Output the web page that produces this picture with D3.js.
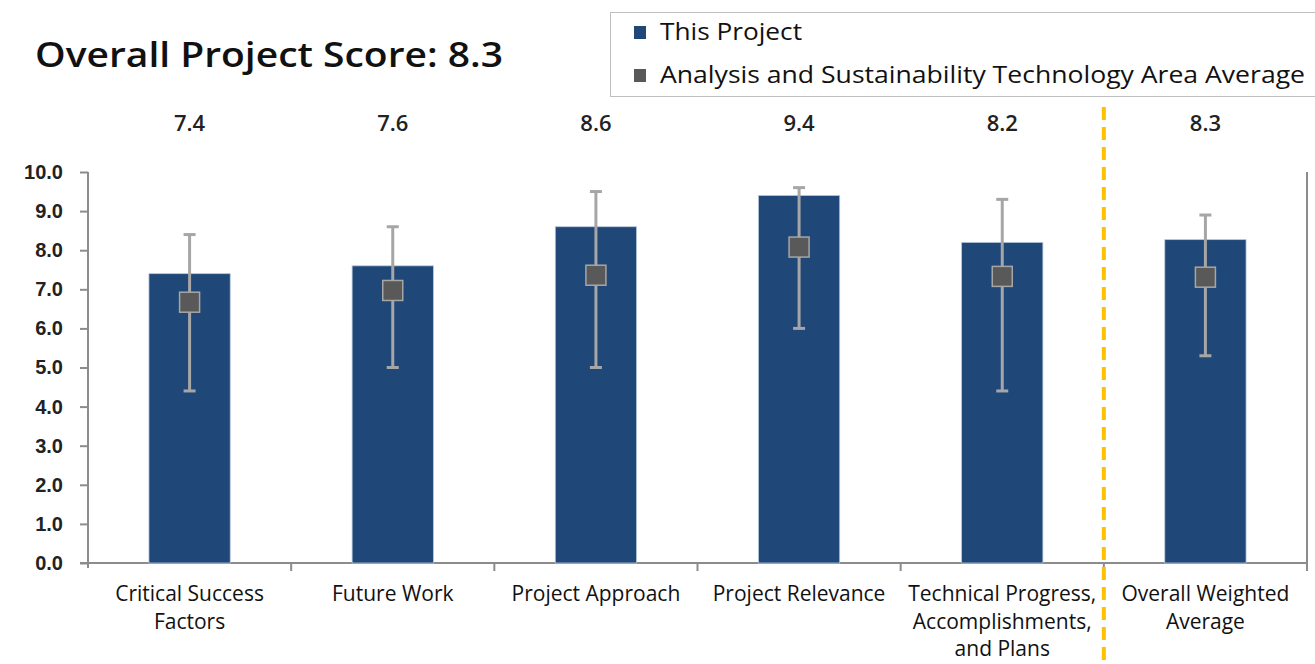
<!DOCTYPE html>
<html lang="en">
<head>
<meta charset="UTF-8" />
<title>Overall Project Score</title>
<script src="https://d3js.org/d3.v7.min.js"></script>
<style>
body {
    margin: 0;
    padding: 0;
    background: #fff;
    font-family: "Open Sans", Arial, sans-serif;
}
svg {
    display: block;
}
</style>
</head>
<body>
<svg width="1315" height="664"></svg>
<script>
// chart data
const categories = [
    ["Critical Success", "Factors"],
    ["Future Work"],
    ["Project Approach"],
    ["Project Relevance"],
    ["Technical Progress,", "Accomplishments,", "and Plans"],
    ["Overall Weighted", "Average"]
];
const projectScores = [7.4, 7.6, 8.6, 9.4, 8.2, 8.27];
const areaAverage = [6.67, 6.97, 7.36, 8.08, 7.33, 7.31];
const areaLow = [4.4, 5.0, 5.0, 6.0, 4.4, 5.3];
const areaHigh = [8.4, 8.6, 9.5, 9.6, 9.3, 8.9];
const yTicks = [0, 1, 2, 3, 4, 5, 6, 7, 8, 9, 10];
const overallScore = 8.3;

const svg = d3.select("svg");
const names = categories.map((c) => c.join(" "));

const x = d3.scaleBand()
    .domain(names)
    .range([88, 1307])
    .paddingInner(0.6)
    .paddingOuter(0.3);

const y = d3.scaleLinear()
    .domain([0, 10])
    .range([563, 172]);

const step = x.step();

// title
svg.append("text")
    .attr("x", 35)
    .attr("y", 67)
    .attr("textLength", 468)
    .attr("lengthAdjust", "spacingAndGlyphs")
    .style("font-size", "34px")
    .style("font-weight", 600)
    .style("fill", "#111")
    .text("Overall Project Score: " + overallScore.toFixed(1));

// legend
const legend = svg.append("g");
legend.append("rect")
    .attr("x", 610.5)
    .attr("y", 12.5)
    .attr("width", 720)
    .attr("height", 84)
    .attr("fill", "#fff")
    .attr("stroke", "#bfbfbf");
const legendItems = [
    { label: "This Project", color: "#1f4878", cy: 32, w: 142 },
    { label: "Analysis and Sustainability Technology Area Average", color: "#595959", cy: 75, w: 645 }
];
legendItems.forEach((d) => {
    legend.append("rect")
        .attr("x", 634)
        .attr("y", d.cy - 6)
        .attr("width", 12)
        .attr("height", 13)
        .attr("fill", d.color);
    legend.append("text")
        .attr("x", 660)
        .attr("y", d.cy + 8)
        .attr("textLength", d.w)
        .attr("lengthAdjust", "spacingAndGlyphs")
        .style("font-size", "23px")
        .style("fill", "#111")
        .text(d.label);
});

// axes
const yAxis = d3.axisLeft(y)
    .tickValues(yTicks)
    .tickSize(8)
    .tickPadding(17)
    .tickFormat(d3.format(".1f"));

const gy = svg.append("g")
    .attr("transform", "translate(88,0)")
    .call(yAxis);
gy.select(".domain").attr("stroke", "#8c8c8c").attr("stroke-width", 2)
    .attr("d", "M0,172V568");
gy.selectAll(".tick line").attr("stroke", "#8c8c8c").attr("stroke-width", 2);
gy.selectAll(".tick text")
    .style("font-size", "20px")
    .style("font-weight", 600)
    .style("fill", "#222");

// x baseline with boundary ticks
const boundaries = d3.range(categories.length + 1).map((i) => 88 + i * step);
svg.append("line")
    .attr("x1", 80).attr("x2", 1307)
    .attr("y1", y(0)).attr("y2", y(0))
    .attr("stroke", "#8c8c8c").attr("stroke-width", 2);
svg.selectAll(".xtick")
    .data(boundaries.slice(1))
    .enter()
    .append("line")
    .attr("x1", (d) => d).attr("x2", (d) => d)
    .attr("y1", y(0)).attr("y2", y(0) + 8)
    .attr("stroke", "#8c8c8c").attr("stroke-width", 2);
// right side line
svg.append("line")
    .attr("x1", 1307).attr("x2", 1307)
    .attr("y1", y(10)).attr("y2", y(0) + 8)
    .attr("stroke", "#8c8c8c").attr("stroke-width", 2);

// bars
svg.selectAll(".bar")
    .data(projectScores)
    .enter()
    .append("rect")
    .attr("x", (d, i) => x(names[i]))
    .attr("y", (d) => y(d))
    .attr("width", x.bandwidth())
    .attr("height", (d) => y(0) - y(d))
    .attr("fill", "#1f4878")
    .attr("stroke", "#b8c7da")
    .attr("stroke-width", 0.8);

// value labels
svg.selectAll(".value")
    .data(projectScores)
    .enter()
    .append("text")
    .attr("x", (d, i) => x(names[i]) + x.bandwidth() / 2)
    .attr("y", 131)
    .attr("text-anchor", "middle")
    .style("font-size", "22px")
    .style("font-weight", 600)
    .style("fill", "#222")
    .text((d) => d.toFixed(1));

// error bars for the area average
const cx = (i) => x(names[i]) + x.bandwidth() / 2;
const err = svg.append("g");
areaAverage.forEach((d, i) => {
    err.append("line")
        .attr("x1", cx(i)).attr("x2", cx(i))
        .attr("y1", y(areaLow[i])).attr("y2", y(areaHigh[i]))
        .attr("stroke", "#a6a6a6").attr("stroke-width", 3);
    [areaLow[i], areaHigh[i]].forEach((v) => {
        err.append("line")
            .attr("x1", cx(i) - 6).attr("x2", cx(i) + 6)
            .attr("y1", y(v)).attr("y2", y(v))
            .attr("stroke", "#a6a6a6").attr("stroke-width", 3);
    });
    err.append("rect")
        .attr("x", cx(i) - 10)
        .attr("y", y(d) - 10)
        .attr("width", 20)
        .attr("height", 20)
        .attr("fill", "#595959")
        .attr("stroke", "#a6a6a6")
        .attr("stroke-width", 1.5);
});

// dashed separator before overall average
svg.append("line")
    .attr("x1", boundaries[5]).attr("x2", boundaries[5])
    .attr("y1", 107).attr("y2", 664)
    .attr("stroke", "#ffc000")
    .attr("stroke-width", 4)
    .attr("stroke-dasharray", "13,7");

// category labels
const labels = svg.selectAll(".xlabel")
    .data(categories)
    .enter()
    .append("text")
    .attr("text-anchor", "middle")
    .style("font-size", "21px")
    .style("fill", "#111");
labels.each(function (lines, i) {
    d3.select(this).selectAll("tspan")
        .data(lines)
        .enter()
        .append("tspan")
        .attr("x", cx(i))
        .attr("y", (d, j) => 601 + j * 27.5)
        .text((d) => d);
});
</script>
</body>
</html>
